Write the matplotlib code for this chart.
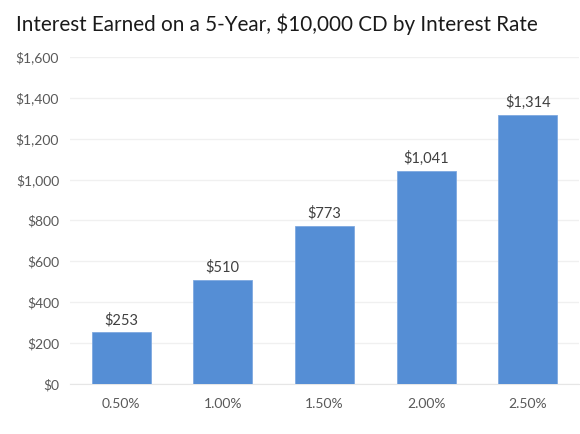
import matplotlib
matplotlib.use('Agg')
import matplotlib.pyplot as plt
from matplotlib.ticker import FuncFormatter

# Data
rates = ['0.50%', '1.00%', '1.50%', '2.00%', '2.50%']
interest = [253, 510, 773, 1041, 1314]
y_ticks = [0, 200, 400, 600, 800, 1000, 1200, 1400, 1600]

plt.rcParams['font.family'] = ['Lato', 'DejaVu Sans']

fig = plt.figure(figsize=(5.8, 4.34), dpi=100)
ax = fig.add_axes([0.121, 0.115, 0.877, 0.754])

x = range(len(rates))
bars = ax.bar(x, interest, width=0.58, color='#558ED5', edgecolor='#7FA9E0', linewidth=0.6, zorder=3)

# Data labels
for rect, val in zip(bars, interest):
    ax.text(rect.get_x() + rect.get_width() / 2, val + 25, f"${val:,}",
            ha='center', va='bottom', fontsize=10.5, color='#404040')

ax.set_xlim(-0.5, len(rates) - 0.5)
ax.set_ylim(0, 1600)
ax.set_yticks(y_ticks)
ax.yaxis.set_major_formatter(FuncFormatter(lambda v, p: f"${int(v):,}"))
ax.set_xticks(list(x))
ax.set_xticklabels(rates)

ax.grid(axis='y', color='#F0F0F0', linewidth=1, zorder=0)
for s in ['top', 'right', 'left']:
    ax.spines[s].set_visible(False)
ax.spines['bottom'].set_color('#E6E6E6')
ax.tick_params(axis='both', length=0, labelsize=10, colors='#595959', pad=8)
ax.tick_params(axis='x', pad=10)

fig.text(0.028, 0.945, "Interest Earned on a 5-Year, $10,000 CD by Interest Rate",
         fontsize=14.9, color='#1A1A1A', ha='left', va='center')

plt.savefig('out.png', dpi=100)
